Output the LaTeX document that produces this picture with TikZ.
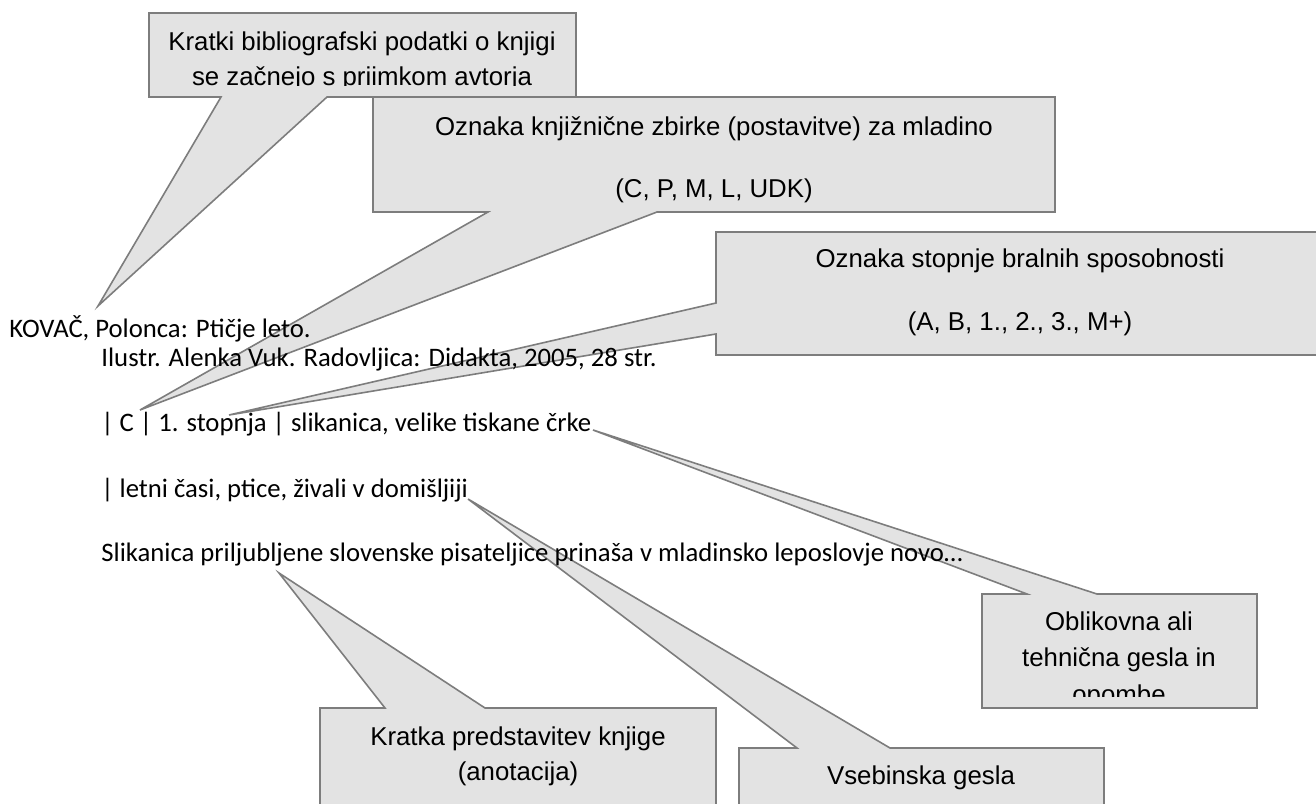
\documentclass[tikz,border=0pt]{standalone}
\usepackage{fontspec}
\setmainfont{Liberation Sans}
\newfontfamily\bodyfont{Carlito}
\definecolor{callfill}{RGB}{227,227,227}
\definecolor{calldraw}{RGB}{125,125,125}
\tikzset{
  callout/.style={fill=callfill, draw=calldraw, line width=0.8pt, line join=miter},
  ctext/.style={anchor=base, inner sep=0pt, font=\fontsize{12.9}{16}\selectfont},
  btext/.style={anchor=base west, inner sep=0pt, font=\bodyfont\fontsize{13.35}{15}\selectfont}
}
\begin{document}
\begin{tikzpicture}[x=0.5pt,y=-0.5pt]
\useasboundingbox (0,0) rectangle (1316,803);
\clip (0,0) rectangle (1316,803);

% callout 1
\path[callout] (149,13) -- (576,13) -- (576,97) -- (327,97) -- (98,306) -- (221,97) -- (149,97) -- cycle;
% callout 2
\path[callout] (373,97) -- (1055,97) -- (1055,212) -- (657,212) -- (140,410) -- (488,212) -- (373,212) -- cycle;
% callout 3
\path[callout] (716,232) -- (1330,232) -- (1330,355) -- (716,355) -- (716,334) -- (229,415) -- (716,303) -- cycle;
% callout 5
\path[callout] (982,594) -- (1027,594) -- (593,430) -- (1097,594) -- (1257,594) -- (1257,708) -- (982,708) -- cycle;
% callout 4
\path[callout] (739,748) -- (797,748) -- (468,499) -- (890,748) -- (1104,748) -- (1104,830) -- (739,830) -- cycle;
% callout 6
\path[callout] (320,708) -- (385,708) -- (279,573) -- (485,708) -- (716,708) -- (716,830) -- (320,830) -- cycle;

% callout texts
\node[ctext] (c1a) at (362,50) {Kratki bibliografski podatki o knjigi};
\begin{scope}
\clip (149,13) rectangle (576,85);
\node[ctext] (c1b) at (362,85) {se začnejo s priimkom avtorja};
\end{scope}
\node[ctext] (c2a) at (714,135) {Oznaka knjižnične zbirke (postavitve) za mladino};
\node[ctext] (c2b) at (714,197) {(C, P, M, L, UDK)};
\node[ctext] (c3a) at (1020,267) {Oznaka stopnje bralnih sposobnosti};
\node[ctext] (c3b) at (1020,330) {(A, B, 1., 2., 3., M+)};
\node[ctext] (c5a) at (1119,630) {Oblikovna ali};
\node[ctext] (c5b) at (1119,666) {tehnična gesla in};
\begin{scope}
\clip (982,594) rectangle (1257,696);
\node[ctext] (c5c) at (1119,703) {opombe};
\end{scope}
\node[ctext] (c4a) at (921,784) {Vsebinska gesla};
\node[ctext] (c6a) at (518,745) {Kratka predstavitev knjige};
\node[ctext] (c6b) at (518,780) {(anotacija)};

% body text
\node[btext] (b1) at (9,337) {KOVAČ, Polonca: Ptičje leto.};
\node[btext] (b2) at (101,366) {Ilustr. Alenka Vuk. Radovljica: Didakta, 2005, 28 str.};
\node[btext] (b3) at (101,431) {| C | 1. stopnja | slikanica, velike tiskane črke};
\node[btext] (b4) at (101,497) {| letni časi, ptice, živali v domišljiji};
\node[btext] (b5) at (101,561) {Slikanica priljubljene slovenske pisateljice prinaša v mladinsko leposlovje novo…};
\end{tikzpicture}
\end{document}
